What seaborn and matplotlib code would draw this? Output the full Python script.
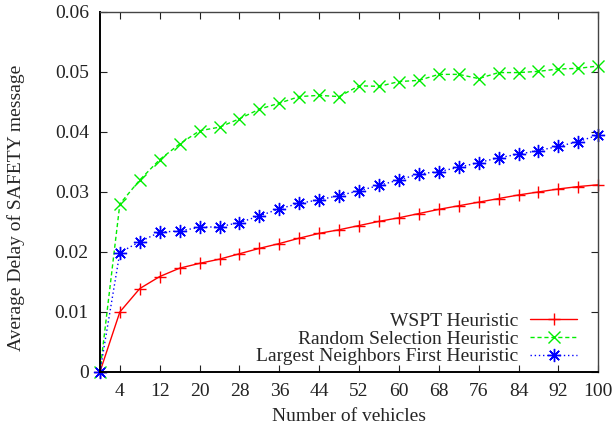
import numpy as np
import pandas as pd
import seaborn as sns
import matplotlib.pyplot as plt

# =====================================================
# DATA
# =====================================================
vehicles = [0, 4, 8, 12, 16, 20, 24, 28, 32, 36, 40, 44, 48,
            52, 56, 60, 64, 68, 72, 76, 80, 84, 88, 92, 96, 100]

wspt = [0.0, 0.0100, 0.0139, 0.0159, 0.0173, 0.0181, 0.0188, 0.0197, 0.0206,
        0.0214, 0.0223, 0.0231, 0.0237, 0.0244, 0.0251, 0.0257, 0.0264,
        0.0271, 0.0277, 0.0283, 0.0289, 0.0295, 0.0300, 0.0305, 0.0309, 0.0312]

random_sel = [0.0, 0.0280, 0.0320, 0.0354, 0.0380, 0.0402, 0.0408, 0.0422,
              0.0438, 0.0448, 0.0459, 0.0461, 0.0459, 0.0477, 0.0476, 0.0484,
              0.0486, 0.0496, 0.0496, 0.0489, 0.0499, 0.0499, 0.0501, 0.0505,
              0.0506, 0.0510]

largest_nb = [0.0, 0.0199, 0.0217, 0.0233, 0.0235, 0.0241, 0.0242, 0.0249,
              0.0260, 0.0272, 0.0281, 0.0287, 0.0294, 0.0302, 0.0311, 0.0320,
              0.0330, 0.0334, 0.0341, 0.0349, 0.0357, 0.0363, 0.0369, 0.0376,
              0.0384, 0.0395]

x_ticks = [4, 12, 20, 28, 36, 44, 52, 60, 68, 76, 84, 92, 100]
y_ticks = [0, 0.01, 0.02, 0.03, 0.04, 0.05, 0.06]
y_tick_labels = ["0", "0.01", "0.02", "0.03", "0.04", "0.05", "0.06"]

# =====================================================
# STYLE
# =====================================================
sns.set_style("ticks")
plt.rcParams["font.family"] = ["Liberation Serif", "DejaVu Serif"]
plt.rcParams["font.size"] = 14

fig = plt.figure(figsize=(6.13, 4.28), dpi=100)
ax = fig.add_axes([0.163, 0.131, 0.813, 0.841])

series = [
    ("WSPT Heuristic", wspt, "#ff0000", "-", "+", 9),
    ("Random Selection Heuristic", random_sel, "#00ee00", (0, (3, 2)), "x", 9),
    ("Largest Neighbors First Heuristic", largest_nb, "#0000ff", (0, (1, 2)), (8, 2, 0), 9.5),
]

for label, vals, color, ls, marker, ms in series:
    df = pd.DataFrame({"vehicles": vehicles, "delay": vals})
    sns.lineplot(data=df, x="vehicles", y="delay", ax=ax, color=color,
                 linestyle=ls, linewidth=1.0, marker=marker, markersize=ms,
                 markeredgewidth=1.0, markeredgecolor=color, label=label,
                 clip_on=False)

ax.set_xlim(0, 100)
ax.set_ylim(0, 0.06)
ax.set_xticks(x_ticks)
ax.set_yticks(y_ticks)
ax.set_yticklabels(y_tick_labels)
ax.tick_params(direction="in", length=5, width=0.8, top=True, right=True,
               labelsize=14, colors="#222222", pad=8)

ax.set_xlabel("Number of vehicles", fontsize=14, labelpad=6)
ax.set_ylabel("Average Delay of SAFETY message", fontsize=14)
ax.yaxis.set_label_coords(-0.151, 0.456)

for side in ["left", "bottom"]:
    ax.spines[side].set_linewidth(1.4)
    ax.spines[side].set_color("black")
for side in ["top", "right"]:
    ax.spines[side].set_linewidth(1.0)
    ax.spines[side].set_color("#444444")

ax.legend(loc="lower right", bbox_to_anchor=(0.958, 0.018), frameon=False,
          markerfirst=False, handlelength=2.43, fontsize=14,
          labelspacing=0.0, borderaxespad=0.0, borderpad=0.0,
          handletextpad=0.62)
leg = ax.get_legend()
leg._legend_box.align = "right"

fig.savefig("out.png", dpi=100)
plt.close(fig)
